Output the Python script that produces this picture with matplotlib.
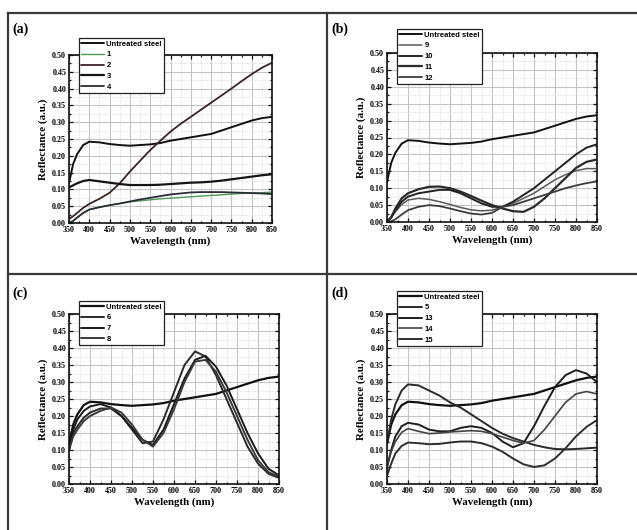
import matplotlib
matplotlib.use("Agg")
import matplotlib.pyplot as plt
from matplotlib.lines import Line2D
from matplotlib.ticker import MultipleLocator, FormatStrFormatter

# Wavelength sampling (nm)
wavelength = [350, 360, 370, 385, 400, 425, 450, 475, 500, 525, 550, 575, 600,
              625, 650, 675, 700, 725, 750, 775, 800, 825, 850]

untreated = [0.118, 0.175, 0.205, 0.232, 0.242, 0.240, 0.235, 0.232, 0.230, 0.232, 0.234,
             0.238, 0.245, 0.250, 0.255, 0.260, 0.265, 0.275, 0.285, 0.295, 0.305, 0.312, 0.316]

# Panel (a)
a_1 = [0.000, 0.006, 0.016, 0.030, 0.040, 0.047, 0.053, 0.058, 0.063, 0.066, 0.069, 0.072,
       0.074, 0.076, 0.078, 0.080, 0.082, 0.084, 0.086, 0.088, 0.089, 0.090, 0.092]
a_2 = [0.012, 0.020, 0.030, 0.045, 0.057, 0.072, 0.090, 0.118, 0.153, 0.185, 0.217, 0.245,
       0.272, 0.295, 0.316, 0.337, 0.358, 0.379, 0.400, 0.422, 0.443, 0.462, 0.477]
a_3 = [0.106, 0.112, 0.118, 0.125, 0.128, 0.124, 0.120, 0.116, 0.113, 0.113, 0.113, 0.114,
       0.116, 0.118, 0.120, 0.121, 0.123, 0.126, 0.130, 0.134, 0.138, 0.142, 0.145]
a_4 = [0.000, 0.006, 0.016, 0.030, 0.040, 0.047, 0.053, 0.058, 0.064, 0.070, 0.075, 0.080,
       0.085, 0.088, 0.091, 0.092, 0.092, 0.092, 0.091, 0.090, 0.089, 0.088, 0.086]

# Panel (b)
b_9 = [0.000, 0.012, 0.030, 0.052, 0.065, 0.070, 0.067, 0.060, 0.052, 0.043, 0.036, 0.033,
       0.035, 0.045, 0.055, 0.070, 0.085, 0.105, 0.125, 0.140, 0.152, 0.158, 0.158]
b_10 = [0.000, 0.014, 0.035, 0.060, 0.075, 0.085, 0.090, 0.095, 0.095, 0.085, 0.070, 0.055,
        0.045, 0.045, 0.060, 0.080, 0.100, 0.125, 0.150, 0.175, 0.200, 0.220, 0.230]
b_11 = [0.000, 0.014, 0.040, 0.070, 0.085, 0.097, 0.104, 0.105, 0.100, 0.090, 0.077, 0.063,
        0.050, 0.040, 0.032, 0.030, 0.045, 0.070, 0.100, 0.130, 0.160, 0.178, 0.185]
b_12 = [0.000, 0.002, 0.008, 0.022, 0.035, 0.045, 0.050, 0.047, 0.040, 0.032, 0.025, 0.022,
        0.027, 0.045, 0.050, 0.060, 0.070, 0.080, 0.090, 0.100, 0.108, 0.115, 0.120]

# Panel (c)
c_6 = [0.100, 0.150, 0.170, 0.195, 0.210, 0.222, 0.222, 0.200, 0.160, 0.120, 0.125, 0.190,
       0.270, 0.350, 0.390, 0.375, 0.320, 0.250, 0.180, 0.110, 0.060, 0.030, 0.018]
c_7 = [0.100, 0.160, 0.190, 0.215, 0.228, 0.235, 0.225, 0.200, 0.165, 0.130, 0.115, 0.160,
       0.235, 0.310, 0.365, 0.377, 0.345, 0.290, 0.220, 0.150, 0.090, 0.045, 0.025]
c_8 = [0.100, 0.140, 0.160, 0.185, 0.200, 0.215, 0.225, 0.210, 0.175, 0.130, 0.110, 0.150,
       0.220, 0.300, 0.360, 0.365, 0.330, 0.270, 0.200, 0.130, 0.070, 0.035, 0.020]

# Panel (d)
d_5 = [0.120, 0.190, 0.235, 0.275, 0.293, 0.290, 0.275, 0.260, 0.240, 0.225, 0.205, 0.185,
       0.165, 0.148, 0.135, 0.125, 0.115, 0.108, 0.103, 0.102, 0.103, 0.105, 0.107]
d_13 = [0.050, 0.100, 0.140, 0.170, 0.180, 0.175, 0.160, 0.155, 0.155, 0.165, 0.170, 0.165,
        0.150, 0.125, 0.108, 0.120, 0.170, 0.230, 0.285, 0.320, 0.335, 0.325, 0.300]
d_14 = [0.050, 0.095, 0.125, 0.152, 0.163, 0.155, 0.148, 0.150, 0.153, 0.155, 0.157, 0.155,
        0.148, 0.138, 0.128, 0.120, 0.128, 0.160, 0.200, 0.240, 0.265, 0.272, 0.265]
d_15 = [0.025, 0.060, 0.090, 0.112, 0.122, 0.120, 0.117, 0.118, 0.122, 0.125, 0.125, 0.120,
        0.110, 0.095, 0.075, 0.058, 0.050, 0.055, 0.075, 0.105, 0.140, 0.168, 0.188]

panels = [
    ("(a)", [("Untreated steel", untreated, "#111111", 1.4),
             ("1", a_1, "#4f9a55", 1.0),
             ("2", a_2, "#3a2424", 1.3),
             ("3", a_3, "#151515", 1.6),
             ("4", a_4, "#2c2c36", 1.3)]),
    ("(b)", [("Untreated steel", untreated, "#111111", 1.4),
             ("9", b_9, "#5a5a5a", 1.1),
             ("10", b_10, "#222222", 1.4),
             ("11", b_11, "#2a2a2a", 1.6),
             ("12", b_12, "#3c3c3c", 1.3)]),
    ("(c)", [("Untreated steel", untreated, "#111111", 1.6),
             ("6", c_6, "#2a2a2a", 1.4),
             ("7", c_7, "#1a1a1a", 1.4),
             ("8", c_8, "#3a3a3a", 1.4)]),
    ("(d)", [("Untreated steel", untreated, "#111111", 1.6),
             ("5", d_5, "#2a2a2a", 1.4),
             ("13", d_13, "#1e1e1e", 1.4),
             ("14", d_14, "#444444", 1.2),
             ("15", d_15, "#2e2e2e", 1.4)]),
]

W, H = 637, 530
fig = plt.figure(figsize=(W / 100, H / 100), dpi=100)
fig.patch.set_facecolor("white")

# axes boxes in pixels: left, top, right, bottom
boxes = [(69, 55, 272, 223), (387, 53, 597, 222),
         (69, 314, 279, 484), (387, 314, 597, 484)]
legend_pos = [(79, 38), (397, 29), (79, 301), (397, 291)]
letter_pos = [(12, 29), (331, 29), (12, 293), (331, 293)]

serif = "Liberation Serif"
sans = "Liberation Sans"

# panel frame lines
frame_kw = dict(color="#3a3a3a", lw=1.6, transform=fig.transFigure)
fig.add_artist(Line2D([8 / W, 1], [1 - 13 / H, 1 - 13 / H], **frame_kw))
fig.add_artist(Line2D([8 / W, 1], [1 - 274 / H, 1 - 274 / H], **frame_kw))
fig.add_artist(Line2D([8 / W, 8 / W], [0, 1 - 13 / H], **frame_kw))
fig.add_artist(Line2D([327 / W, 327 / W], [0, 1 - 13 / H], **frame_kw))

for (letter, series), (l, t, r, b), (lx, ly), (tx, ty) in zip(panels, boxes, legend_pos, letter_pos):
    ax = fig.add_axes([l / W, 1 - b / H, (r - l) / W, (b - t) / H])
    handles = []
    for name, vals, col, lw in series:
        h, = ax.plot(wavelength, vals, color=col, lw=lw, solid_joinstyle="round",
                     solid_capstyle="round", label=name)
        handles.append(h)
    ax.set_xlim(350, 850)
    ax.set_ylim(0, 0.5)
    ax.xaxis.set_major_locator(MultipleLocator(50))
    ax.xaxis.set_minor_locator(MultipleLocator(25))
    ax.yaxis.set_major_locator(MultipleLocator(0.05))
    ax.yaxis.set_minor_locator(MultipleLocator(0.025))
    ax.yaxis.set_major_formatter(FormatStrFormatter("%.2f"))
    ax.grid(which="major", color="#c4c4c4", lw=0.8)
    ax.grid(which="minor", color="#dcdcdc", lw=0.6, ls=(0, (1.5, 1.5)))
    ax.set_axisbelow(True)
    ax.tick_params(which="both", direction="in", top=True, right=True,
                   width=0.9, color="#111111")
    ax.tick_params(which="major", length=3, labelsize=5.8, pad=2)
    ax.tick_params(which="minor", length=1.6)
    for lab in ax.get_xticklabels() + ax.get_yticklabels():
        lab.set_fontfamily(serif)
        lab.set_fontweight("bold")
    for s in ax.spines.values():
        s.set_linewidth(1.2)
        s.set_color("#111111")
    ax.set_xlabel("Wavelength (nm)", fontfamily=serif, fontweight="bold",
                  fontsize=7.8, labelpad=2)
    ax.set_ylabel("Reflectance (a.u.)", fontfamily=serif, fontweight="bold",
                  fontsize=7.8, labelpad=3)
    leg = ax.legend(handles=handles, loc="upper left",
                    bbox_to_anchor=(lx / W, 1 - ly / H), bbox_transform=fig.transFigure,
                    prop={"family": sans, "weight": "bold", "size": 5.5},
                    frameon=True, fancybox=False, framealpha=1, edgecolor="#222222",
                    borderpad=0.3, labelspacing=0.45, handlelength=3.0,
                    handletextpad=0.3, borderaxespad=0)
    leg.get_frame().set_linewidth(0.9)
    leg.set_zorder(10)
    fig.text(tx / W, 1 - ty / H, letter, fontfamily=serif, fontweight="bold",
             fontsize=10, ha="left", va="center")

fig.savefig("out.png", dpi=100, facecolor="white")
